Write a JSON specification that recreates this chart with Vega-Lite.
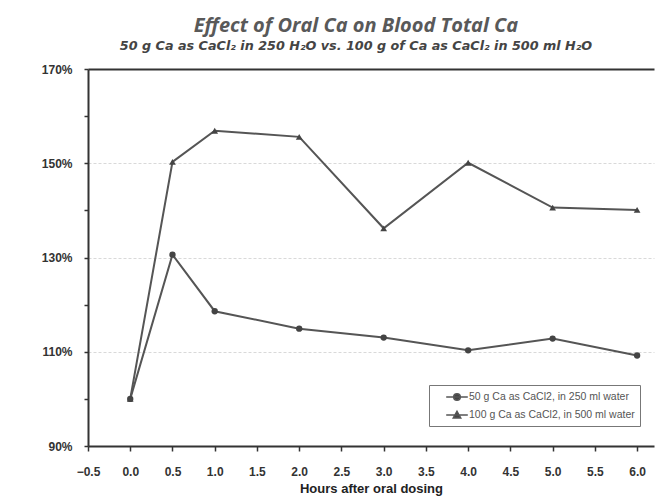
{
  "$schema": "https://vega.github.io/schema/vega-lite/v6.json",
  "width": 566,
  "height": 377,
  "autosize": "none",
  "padding": {"left": 88, "top": 69, "right": 6, "bottom": 51},
  "background": "white",
  "config": {"view": {"stroke": null}},
  "title": {
    "text": "Effect of Oral Ca on Blood Total Ca",
    "subtitle": "50 g Ca as CaCl₂ in 250 H₂O vs. 100 g of Ca as CaCl₂ in 500 ml H₂O",
    "font": "Open Sans",
    "fontSize": 20,
    "fontWeight": "bold",
    "fontStyle": "italic",
    "color": "#595959",
    "subtitleFont": "DejaVu Sans",
    "subtitleFontSize": 12.75,
    "subtitleFontStyle": "italic",
    "subtitleFontWeight": "bold",
    "subtitleColor": "#444444",
    "subtitlePadding": 4,
    "anchor": "middle",
    "dx": -15,
    "offset": 10
  },
  "data": {
    "values": [
      {"hours": 0.0, "pct": 100.0, "series": "50 g Ca as CaCl2, in 250 ml water"},
      {"hours": 0.5, "pct": 130.6, "series": "50 g Ca as CaCl2, in 250 ml water"},
      {"hours": 1.0, "pct": 118.6, "series": "50 g Ca as CaCl2, in 250 ml water"},
      {"hours": 2.0, "pct": 114.9, "series": "50 g Ca as CaCl2, in 250 ml water"},
      {"hours": 3.0, "pct": 113.0, "series": "50 g Ca as CaCl2, in 250 ml water"},
      {"hours": 4.0, "pct": 110.3, "series": "50 g Ca as CaCl2, in 250 ml water"},
      {"hours": 5.0, "pct": 112.8, "series": "50 g Ca as CaCl2, in 250 ml water"},
      {"hours": 6.0, "pct": 109.2, "series": "50 g Ca as CaCl2, in 250 ml water"},
      {"hours": 0.0, "pct": 100.0, "series": "100 g Ca as CaCl2, in 500 ml water"},
      {"hours": 0.5, "pct": 150.3, "series": "100 g Ca as CaCl2, in 500 ml water"},
      {"hours": 1.0, "pct": 156.9, "series": "100 g Ca as CaCl2, in 500 ml water"},
      {"hours": 2.0, "pct": 155.6, "series": "100 g Ca as CaCl2, in 500 ml water"},
      {"hours": 3.0, "pct": 136.2, "series": "100 g Ca as CaCl2, in 500 ml water"},
      {"hours": 4.0, "pct": 150.1, "series": "100 g Ca as CaCl2, in 500 ml water"},
      {"hours": 5.0, "pct": 140.6, "series": "100 g Ca as CaCl2, in 500 ml water"},
      {"hours": 6.0, "pct": 140.1, "series": "100 g Ca as CaCl2, in 500 ml water"}
    ]
  },
  "encoding": {
    "x": {
      "field": "hours",
      "type": "quantitative",
      "scale": {"domain": [-0.5, 6.2], "nice": false, "zero": false},
      "axis": {
        "title": "Hours after oral dosing",
        "values": [-0.5, 0, 0.5, 1, 1.5, 2, 2.5, 3, 3.5, 4, 4.5, 5, 5.5, 6],
        "format": ".1f",
        "grid": false,
        "domainColor": "#333333",
        "domainWidth": 2,
        "tickColor": "#333333",
        "tickWidth": 1.5,
        "tickSize": 5,
        "labelPadding": 15,
        "labelFont": "Liberation Sans",
        "labelFontSize": 12,
        "labelFontWeight": "bold",
        "labelColor": "#333333",
        "labelFlush": false,
        "titleFont": "Liberation Sans",
        "titleFontSize": 13,
        "titleFontWeight": "bold",
        "titleColor": "#222222",
        "titlePadding": 5
      }
    },
    "y": {
      "field": "pct",
      "type": "quantitative",
      "scale": {"domain": [90, 170], "nice": false, "zero": false},
      "axis": {
        "title": null,
        "values": [90, 100, 110, 120, 130, 140, 150, 160, 170],
        "labelExpr": "datum.value % 20 == 10 ? datum.value + '%' : ''",
        "grid": true,
        "gridColor": {"condition": {"test": "datum.value == 170", "value": "#333333"}, "value": "#d9d9d9"},
        "gridDash": {"condition": {"test": "datum.value == 170", "value": [1, 0]}, "value": [3, 2]},
        "gridWidth": {"condition": {"test": "datum.value == 170", "value": 2}, "value": 1},
        "gridOpacity": {"condition": {"test": "datum.value % 20 == 10 && datum.value != 90", "value": 1}, "value": 0},
        "domainColor": "#333333",
        "domainWidth": 2,
        "tickColor": "#333333",
        "tickWidth": 1.5,
        "tickSize": 4,
        "labelPadding": 12,
        "labelFont": "Liberation Sans",
        "labelFontSize": 12,
        "labelFontWeight": "bold",
        "labelColor": "#333333"
      }
    },
    "color": {
      "field": "series",
      "type": "nominal",
      "scale": {
        "domain": ["50 g Ca as CaCl2, in 250 ml water", "100 g Ca as CaCl2, in 500 ml water"],
        "range": ["#555555", "#555555"]
      },
      "legend": {
        "title": null,
        "orient": "none",
        "legendX": 341,
        "legendY": 316,
        "padding": 5,
        "strokeColor": "#777777",
        "fillColor": "white",
        "symbolSize": 144,
        "symbolOffset": 16,
        "symbolType": {"expr": "indexof(datum.value, '50 g') == 0 ? 'M-1.8,0H1.8M-0.55,0A0.55,0.55,0,1,0,0.55,0A0.55,0.55,0,1,0,-0.55,0Z' : 'M-1.8,0H1.8M0,-0.62L0.62,0.48L-0.62,0.48Z'"},
        "symbolFillColor": "#444444",
        "symbolStrokeColor": "#444444",
        "symbolStrokeWidth": 1.5,
        "symbolOpacity": 1,
        "labelOffset": 5,
        "rowPadding": 4,
        "labelLimit": 400,
        "labelFont": "Liberation Sans",
        "labelFontSize": 10.5,
        "labelColor": "#555555",
        "labelExpr": "datum.label + '\u00a0\u00a0\u00a0\u00a0'"
      }
    }
  },
  "layer": [
    {
      "mark": {"type": "line", "strokeWidth": 2, "color": "#555555"}
    },
    {
      "transform": [{"filter": "indexof(datum.series, '50 g') == 0"}],
      "mark": {"type": "point", "shape": "circle", "filled": true, "opacity": 1, "color": "#444444", "size": 40},
      "encoding": {"color": {"value": "#444444"}}
    },
    {
      "transform": [{"filter": "indexof(datum.series, '100 g') == 0"}],
      "mark": {"type": "point", "shape": "triangle-up", "filled": true, "opacity": 1, "color": "#444444", "size": 45},
      "encoding": {"color": {"value": "#444444"}}
    }
  ]
}
